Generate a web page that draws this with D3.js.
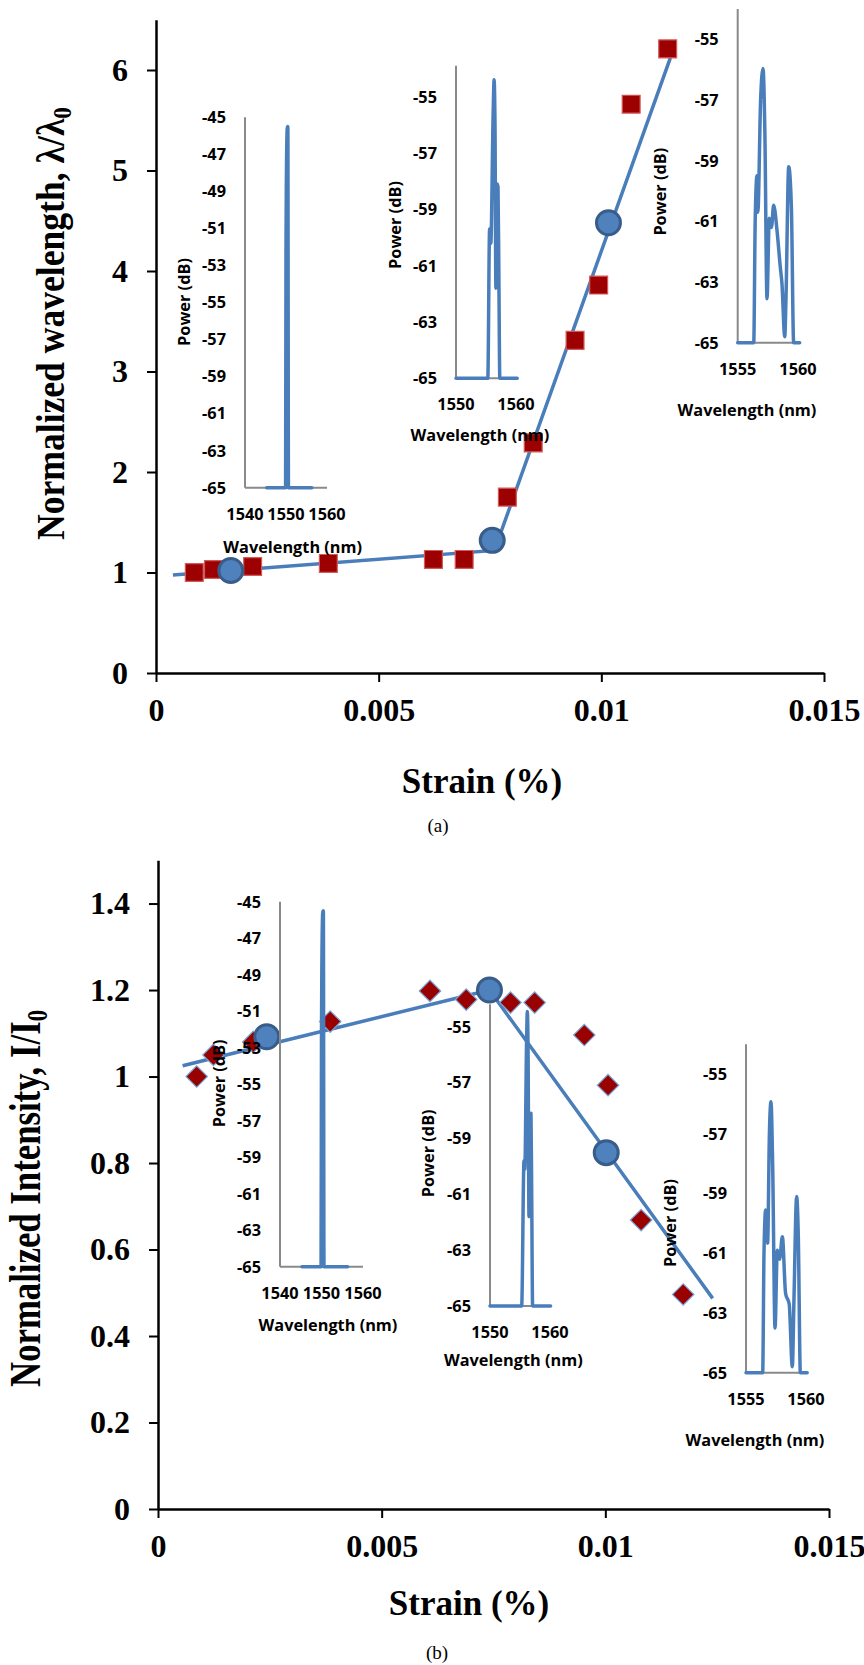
<!DOCTYPE html>
<html>
<head>
<meta charset="utf-8">
<script src="https://cdn.jsdelivr.net/npm/d3@7/dist/d3.min.js"></script>
<style>
  body { margin: 0; background: #fff; }
  svg { display: block; }
  .serif { font-family: "Liberation Serif", "Times New Roman", serif; font-weight: bold; fill: #000; }
  .sans { font-family: "Open Sans", "Liberation Sans", sans-serif; font-weight: 700; fill: #000; }
</style>
</head>
<body>
<svg id="fig" width="864" height="1665"></svg>
<script>
// ---- data ----
var strainTicks = [0, 0.005, 0.01, 0.015];
var lambdaTicks = [0, 1, 2, 3, 4, 5, 6];
var intensityTicks = [0, 0.2, 0.4, 0.6, 0.8, 1, 1.2, 1.4];

// (a) normalized wavelength vs strain
var strainA  = [0.00086, 0.00129, 0.00217, 0.00387, 0.00623, 0.00692, 0.00789, 0.00847, 0.00941, 0.00994, 0.01067, 0.01149];
var lambdaA  = [1.0, 1.03, 1.06, 1.09, 1.13, 1.13, 1.75, 2.29, 3.31, 3.86, 5.66, 6.21];
var strainAKey = [0.00168, 0.00755, 0.01016];
var lambdaAKey = [1.02, 1.32, 4.48];
var strainAFit = [0.00038, 0.0076, 0.01155];
var lambdaAFit = [0.975, 1.22, 6.12];

// (b) normalized intensity vs strain
var strainB    = [0.000865, 0.00124, 0.00213, 0.00385, 0.00608, 0.00689, 0.00788, 0.00842, 0.00953, 0.01006, 0.0108, 0.01174];
var intensityB = [1.0, 1.05, 1.08, 1.127, 1.198, 1.178, 1.171, 1.171, 1.096, 0.98, 0.668, 0.496];
var strainBKey = [0.00243, 0.00741, 0.01002];
var intensityBKey = [1.092, 1.2, 0.824];
var strainBFit = [0.00055, 0.00741, 0.0124];
var intensityBFit = [1.025, 1.2, 0.487];

// inset spectra (wavelength nm, power dB)
var spec1Wl  = [1545.3, 1549.9, 1550.0, 1550.1, 1550.3, 1550.45, 1550.6, 1556.3];
var spec1Pow = [-65, -65, -52, -48.2, -45.6, -45.5, -65, -65];
var spec2Wl  = [1550, 1555.3, 1555.6, 1555.8, 1556.2, 1556.35, 1556.5, 1556.65, 1556.85, 1557.0, 1557.15, 1557.3, 1560.2];
var spec2Pow = [-65, -65, -59.7, -60.2, -55.5, -54.4, -56, -61.8, -58.1, -58.2, -61.5, -65, -65];
var spec3Wl  = [1555, 1556.33, 1556.45, 1556.6, 1556.67, 1556.9, 1557.1, 1557.25, 1557.43, 1557.62, 1557.8, 1557.98, 1558.26, 1558.53, 1558.67, 1558.9, 1559.0, 1559.23, 1559.45, 1559.64, 1560.14];
var spec3Pow = [-65, -65, -61, -59.5, -60.7, -57, -55.96, -58, -63.55, -60.9, -61.2, -60.47, -61.3, -62.5, -63.05, -64.8, -63.6, -59.2, -60.5, -65, -65];
var spec4Wl  = [1545.3, 1549.9, 1550.0, 1550.1, 1550.3, 1550.45, 1550.6, 1556.3];
var spec4Pow = [-65, -65, -52, -48.2, -45.6, -45.5, -65, -65];
var spec5Wl  = [1550, 1555.28, 1555.67, 1555.8, 1556.1, 1556.22, 1556.35, 1556.5, 1556.7, 1556.83, 1556.95, 1557.1, 1560.1];
var spec5Pow = [-65, -65, -59.8, -60.1, -55.5, -54.46, -56, -61.8, -58.5, -58.1, -61, -65, -65];
var spec6Wl  = [1555, 1556.39, 1556.5, 1556.64, 1556.8, 1556.95, 1557.08, 1557.22, 1557.42, 1557.61, 1557.8, 1558.03, 1558.3, 1558.6, 1558.86, 1559.0, 1559.22, 1559.36, 1559.53, 1560.1];
var spec6Pow = [-65, -65, -61, -59.55, -60.67, -57, -55.93, -58, -63.5, -60.9, -61.2, -60.45, -62.35, -62.7, -64.8, -62.5, -59.1, -60.45, -65, -65];

var wlTicksWide = [1540, 1550, 1560];
var wlTicksMid = [1550, 1560];
var wlTicksNarrow = [1555, 1560];
var powTicksWide = [-45, -47, -49, -51, -53, -55, -57, -59, -61, -63, -65];
var powTicksNarrow = [-55, -57, -59, -61, -63, -65];

// ---- layout ----
var BLUE = '#4a7ebb';
var svg = d3.select('#fig');

function zip(a, b){ return a.map(function(v, i){ return [v, b[i]]; }); }

// inset text size: fit "Wavelength (nm)" to the width it has in the figure
var probe = svg.append('text').attr('class', 'sans').attr('font-size', 17).text('Wavelength (nm)');
var insetFont = 17 * 139 / probe.node().getComputedTextLength();
probe.remove();

function styleAxis(g, size){
  g.select('.domain').attr('stroke', '#000').attr('stroke-width', 2.5);
  g.selectAll('.tick line').attr('stroke', '#000').attr('stroke-width', 2);
  g.selectAll('.tick text').attr('class', 'serif').attr('font-size', size).attr('fill', '#000');
}

function fitTitle(t, len){
  var k = len / t.node().getComputedTextLength();
  t.attr('transform', t.attr('transform') + ' scale(' + k + ',1)');
}

function mainPanel(o){
  var g = svg.append('g');
  var x = d3.scaleLinear().domain([0, 0.015]).range(o.xr);
  var y = d3.scaleLinear().domain([0, o.yTop]).range(o.yr);

  var ax = g.append('g').attr('transform', 'translate(0,' + y(0) + ')')
    .call(d3.axisBottom(x).tickValues(strainTicks).tickSize(9).tickSizeOuter(0).tickPadding(16)
      .tickFormat(function(d){ return String(d); }));
  ax.attr('font-family', null).attr('font-size', null);
  styleAxis(ax, 32);

  var ay = g.append('g').attr('transform', 'translate(' + x(0) + ',0)')
    .call(d3.axisLeft(y).tickValues(o.yTicks).tickSize(9).tickSizeOuter(0).tickPadding(19)
      .tickFormat(function(d){ return String(d); }));
  ay.attr('font-family', null).attr('font-size', null);
  styleAxis(ay, 32);

  var line = d3.line().x(function(d){ return x(d[0]); }).y(function(d){ return y(d[1]); });
  g.append('path').datum(zip(o.fitX, o.fitY)).attr('d', line)
    .attr('fill', 'none').attr('stroke', BLUE).attr('stroke-width', 3.5);

  if (o.marker === 'square') {
    g.selectAll('.pt').data(zip(o.ptX, o.ptY)).enter().append('path')
      .attr('d', d3.symbol(d3.symbolSquare, 320))
      .attr('transform', function(d){ return 'translate(' + x(d[0]) + ',' + y(d[1]) + ')'; })
      .attr('fill', '#9c0000').attr('stroke', '#d45a5a').attr('stroke-width', 1.2);
  } else {
    g.selectAll('.pt').data(zip(o.ptX, o.ptY)).enter().append('path')
      .attr('d', d3.symbol(d3.symbolSquare, 230))
      .attr('transform', function(d){ return 'translate(' + x(d[0]) + ',' + y(d[1]) + ') rotate(45)'; })
      .attr('fill', '#990000').attr('stroke', '#7aa5d8').attr('stroke-width', 1.2);
  }

  g.selectAll('.key').data(zip(o.keyX, o.keyY)).enter().append('circle')
    .attr('cx', function(d){ return x(d[0]); }).attr('cy', function(d){ return y(d[1]); })
    .attr('r', 12).attr('fill', '#4f81bd').attr('stroke', '#385d8a').attr('stroke-width', 3);

  // titles
  var yt = g.append('text').attr('class', 'serif').attr('font-size', o.yTitleSize).attr('text-anchor', 'middle')
    .attr('transform', 'translate(' + o.yTitle[0] + ',' + o.yTitle[1] + ') rotate(-90)');
  yt.append('tspan').text(o.yLabel);
  yt.append('tspan').attr('font-size', '65%').attr('dy', '0.25em').text('0');
  fitTitle(yt, o.yTitleLen);

  g.append('text').attr('class', 'serif').attr('font-size', 35).attr('text-anchor', 'middle')
    .attr('x', o.xTitle[0]).attr('y', o.xTitle[1]).text('Strain (%)');
  g.append('text').attr('font-family', '"Liberation Serif", serif').attr('font-size', 19)
    .attr('text-anchor', 'middle').attr('x', o.cap[0]).attr('y', o.cap[1]).text(o.capText);
}

function inset(o){
  var g = svg.append('g');
  var x = d3.scaleLinear().domain([o.xTicks[0], o.xTicks[o.xTicks.length - 1]]).range(o.xr);
  var y = d3.scaleLinear().domain([-65, o.yRef]).range(o.yr);
  var x0 = o.xr[0], y0 = o.yr[0];

  g.append('line').attr('x1', x0).attr('x2', x0).attr('y1', y0).attr('y2', y(o.yMax))
    .attr('stroke', '#8a8a8a').attr('stroke-width', 2);
  g.append('line').attr('x1', x0).attr('x2', x(o.xMax)).attr('y1', y0).attr('y2', y0)
    .attr('stroke', '#8a8a8a').attr('stroke-width', 2);

  g.selectAll('.yt').data(o.yTicks).enter().append('text').attr('class', 'sans')
    .attr('font-size', insetFont).attr('text-anchor', 'end')
    .attr('x', x0 - 19).attr('y', function(d){ return y(d); }).attr('dy', '0.36em')
    .text(function(d){ return d; });
  g.selectAll('.xt').data(o.xTicks).enter().append('text').attr('class', 'sans')
    .attr('font-size', insetFont).attr('text-anchor', 'middle')
    .attr('x', function(d){ return x(d); }).attr('y', y0 + 26).attr('dy', '0.36em')
    .text(function(d){ return d; });

  g.append('text').attr('class', 'sans').attr('font-size', insetFont).attr('text-anchor', 'middle')
    .attr('x', o.wl[0]).attr('y', o.wl[1]).attr('dy', '0.36em').text('Wavelength (nm)');
  g.append('text').attr('class', 'sans').attr('font-size', insetFont).attr('text-anchor', 'middle')
    .attr('transform', 'translate(' + (o.pw[0] + 6) + ',' + o.pw[1] + ') rotate(-90)').text('Power (dB)');

  var line = d3.line().curve(d3.curveMonotoneX)
    .x(function(d){ return x(d[0]); }).y(function(d){ return y(d[1]); });
  g.append('path').datum(zip(o.wlData, o.powData)).attr('d', line)
    .attr('fill', 'none').attr('stroke', BLUE).attr('stroke-width', 3.5)
    .attr('stroke-linejoin', 'round').attr('stroke-linecap', 'round');
}

mainPanel({
  xr: [156, 824], yr: [673, 19.75], yTop: 6.5, yTicks: lambdaTicks,
  ptX: strainA, ptY: lambdaA, keyX: strainAKey, keyY: lambdaAKey, fitX: strainAFit, fitY: lambdaAFit,
  marker: 'square', yLabel: 'Normalized wavelength, \u03bb/\u03bb', yTitle: [64, 323.5], yTitleLen: 433, yTitleSize: 40,
  xTitle: [482, 793], cap: [438, 832], capText: '(a)'
});

mainPanel({
  xr: [158, 829], yr: [1509, 860.3], yTop: 1.5, yTicks: intensityTicks,
  ptX: strainB, ptY: intensityB, keyX: strainBKey, keyY: intensityBKey, fitX: strainBFit, fitY: intensityBFit,
  marker: 'diamond', yLabel: 'Normalized Intensity, I/I', yTitle: [40, 1198.5], yTitleLen: 377, yTitleSize: 44,
  xTitle: [469, 1615], cap: [437, 1659], capText: '(b)'
});

var insets = [
  { wlData: spec1Wl, powData: spec1Pow, xTicks: wlTicksWide, yTicks: powTicksWide,
    xr: [245, 327], yRef: -45, yr: [487.7, 117.3], xMax: 1560, yMax: -45, wl: [292.7, 546.7], pw: [184, 302] },
  { wlData: spec2Wl, powData: spec2Pow, xTicks: wlTicksMid, yTicks: powTicksNarrow,
    xr: [456, 516], yRef: -55, yr: [378.3, 96.7], xMax: 1560.2, yMax: -53.9, wl: [480, 435], pw: [395, 225] },
  { wlData: spec3Wl, powData: spec3Pow, xTicks: wlTicksNarrow, yTicks: powTicksNarrow,
    xr: [737.7, 798], yRef: -55, yr: [342.7, 39.3], xMax: 1560.14, yMax: -54, wl: [747, 410], pw: [660, 191.7] },
  { wlData: spec4Wl, powData: spec4Pow, xTicks: wlTicksWide, yTicks: powTicksWide,
    xr: [280, 363], yRef: -45, yr: [1266.7, 901.7], xMax: 1560, yMax: -45, wl: [328, 1325], pw: [219, 1083.3] },
  { wlData: spec5Wl, powData: spec5Pow, xTicks: wlTicksMid, yTicks: powTicksNarrow,
    xr: [490, 550], yRef: -55, yr: [1306, 1026.7], xMax: 1560.1, yMax: -54.2, wl: [513.3, 1360], pw: [428.3, 1153.3] },
  { wlData: spec6Wl, powData: spec6Pow, xTicks: wlTicksNarrow, yTicks: powTicksNarrow,
    xr: [746, 806], yRef: -55, yr: [1372.7, 1074], xMax: 1560.1, yMax: -54, wl: [755, 1440], pw: [670, 1223] }
];
insets.forEach(inset);
</script>
</body>
</html>
